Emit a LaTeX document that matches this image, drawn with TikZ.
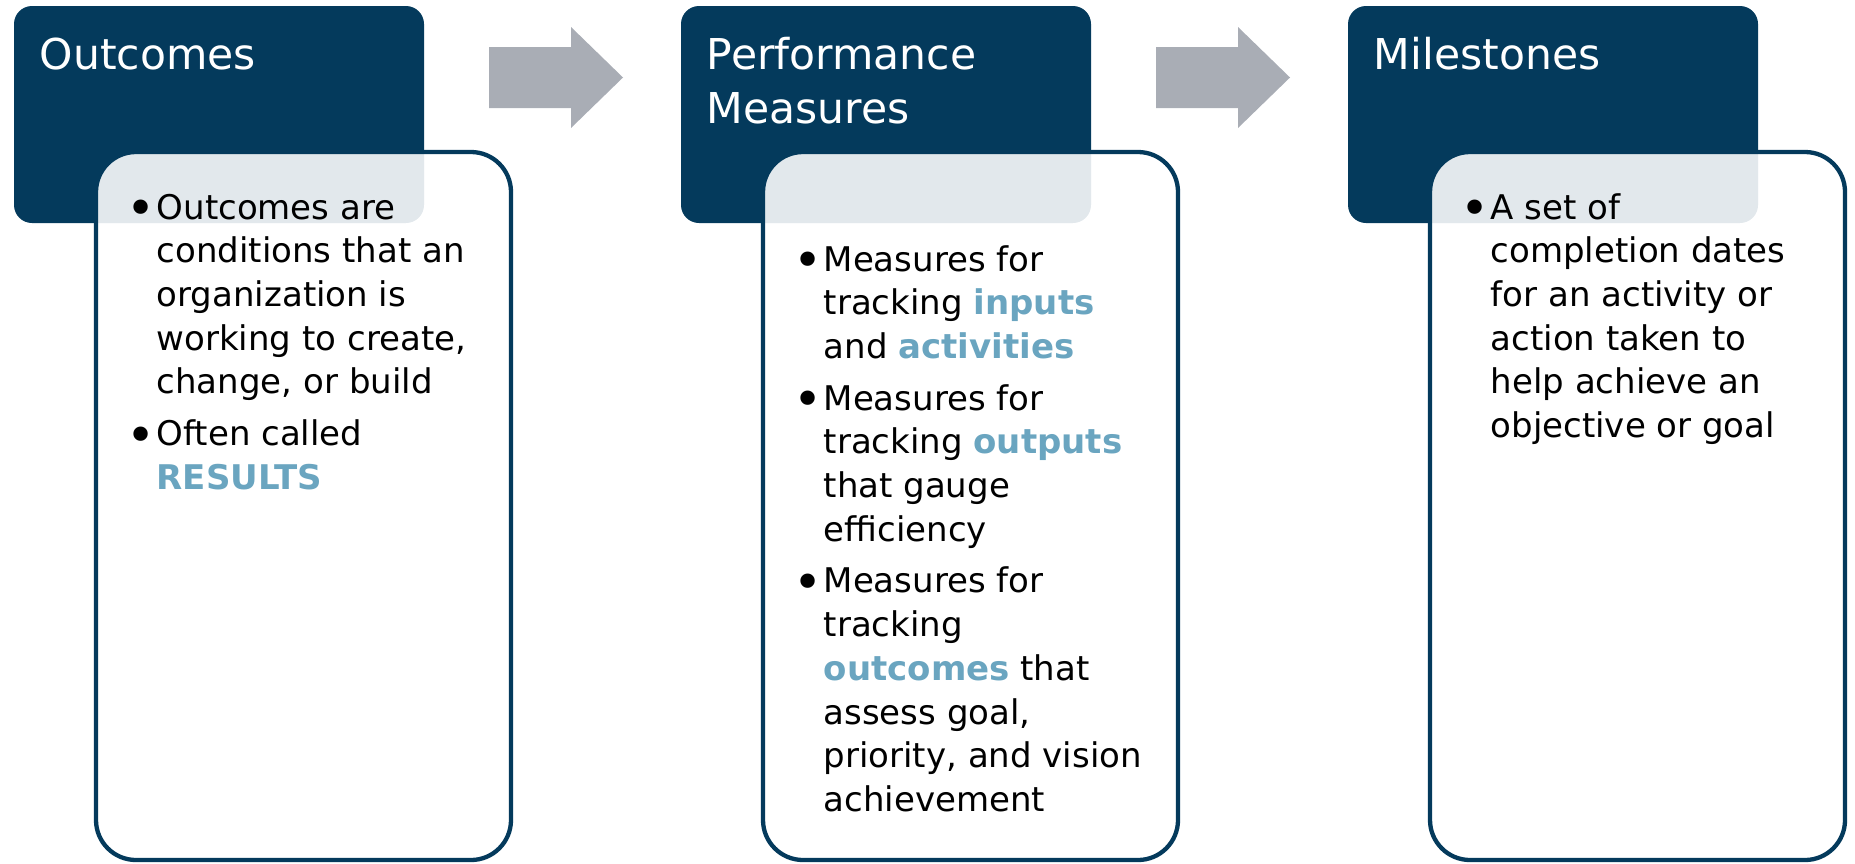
\documentclass[tikz,border=0pt]{standalone}
\usepackage{fontspec}
\setmainfont{DejaVu Sans}
\usetikzlibrary{positioning}

\definecolor{navy}{HTML}{043A5C}
\definecolor{arrowgray}{HTML}{A9ADB5}
\definecolor{hilite}{HTML}{6AA5C0}

\newcommand\hl[1]{\textcolor{hilite}{\textbf{#1}}}
\newcommand\bul{\leavevmode\llap{\makebox[0pt]{\raisebox{-3.4pt}{\scalebox{1.45}{\textbullet}}}\hspace{7.9pt}}}
\newcommand\ttlbox[1]{\parbox[t]{190pt}{\raggedright\fontsize{21.25}{27}\selectfont #1}}
\newcommand\bodytext[1]{\parbox[t]{172pt}{\raggedright\fontsize{17}{21.85}\selectfont\parskip=4pt #1}}

\begin{document}
\begin{tikzpicture}[x=0.5pt, y=-0.5pt,
  hdr/.style={fill=navy, rounded corners=9pt, minimum width=205pt, minimum height=108.5pt, inner sep=0pt, outer sep=0pt},
  card/.style={draw=navy, line width=2.15pt, fill=white, fill opacity=0.885, rounded corners=20pt,
    minimum width=207.5pt, minimum height=354pt, inner sep=0pt, outer sep=0pt},
  ttl/.style={text=white, inner sep=0pt, anchor=base west},
  txt/.style={text=black, inner sep=0pt, anchor=base west},
  blk/.style={fill=arrowgray}]
\useasboundingbox (0,0) rectangle (1855,863);
% title boxes
\node[hdr, anchor=north west] (h1) at (14,6) {};
\node[hdr, right=128.5pt of h1] (h2) {};
\node[hdr, right=128.5pt of h2] (h3) {};
% cards laid over the lower part of each title box
\foreach \n in {1,2,3}
  \node[card, below right=73pt and 41pt of h\n.north west] (c\n) {};
% block arrows between the title boxes
\foreach \dx in {0,667}
  \fill[blk, shift={(\dx,0)}] (489,47) -- (571,47) -- (571,27) -- (623,77.5)
    -- (571,128) -- (571,108) -- (489,108) -- cycle;
% headings
\node[ttl] (t1) at ([shift={(12.75pt,-31.5pt)}]h1.north west) {\ttlbox{Outcomes}};
\node[ttl] (t2) at ([shift={(12.75pt,-31.5pt)}]h2.north west) {\ttlbox{Performance\\Measures}};
\node[ttl] (t3) at ([shift={(12.75pt,-31.5pt)}]h3.north west) {\ttlbox{Milestones}};
% bullet lists
\node[txt] (l1) at ([shift={(30.15pt,-33.5pt)}]c1.north west) {\bodytext{%
  \bul Outcomes are\\conditions that an\\organization is\\working to create,\\change, or build\par
  \bul Often called\\\hl{RESULTS}}};
\node[txt] (l2) at ([shift={(30.15pt,-59.5pt)}]c2.north west) {\bodytext{%
  \bul Measures for\\tracking \hl{inputs}\\and \hl{activities}\par
  \bul Measures for\\tracking \hl{outputs}\\that gauge\\efficiency\par
  \bul Measures for\\tracking\\\hl{outcomes} that\\assess goal,\\priority, and vision\\achievement}};
\node[txt] (l3) at ([shift={(30.15pt,-33.5pt)}]c3.north west) {\bodytext{%
  \bul A set of\\completion dates\\for an activity or\\action taken to\\help achieve an\\objective or goal}};
\end{tikzpicture}
\end{document}
